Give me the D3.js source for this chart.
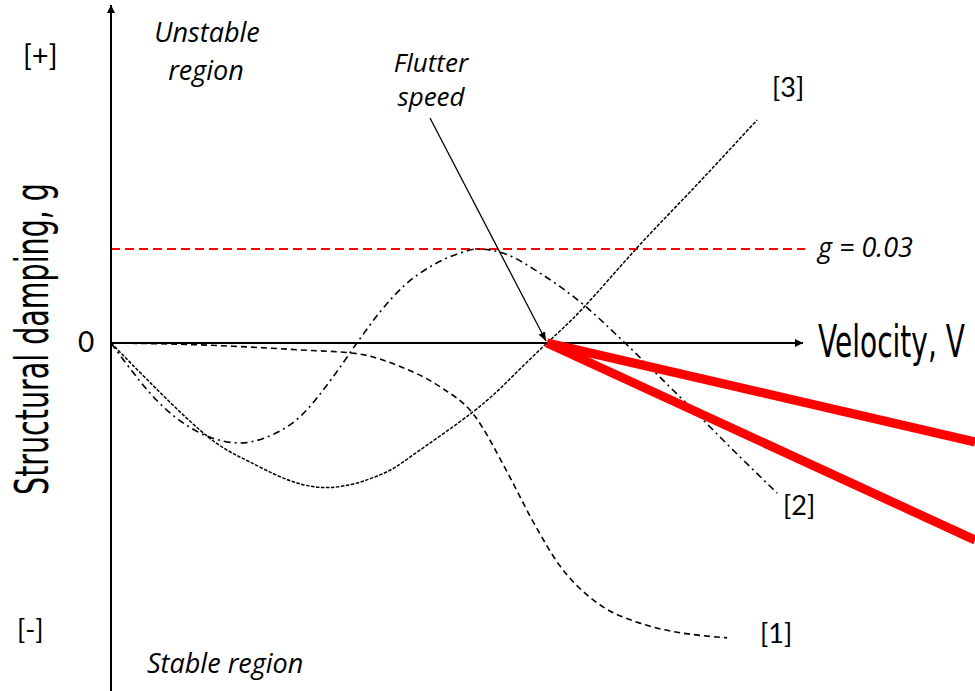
<!DOCTYPE html>
<html>
<head>
<meta charset="utf-8">
<script src="https://cdn.jsdelivr.net/npm/d3@7"></script>
<style>
  body { margin: 0; background: #fff; }
  svg { display: block; }
</style>
</head>
<body>
<svg id="chart" width="975" height="691"></svg>
<script>
// velocity is in units of the flutter speed, damping in g
const curve1V = [0, 0.204, 0.319, 0.433, 0.564, 0.663, 0.755, 0.830, 0.908, 0.968, 1.030, 1.106, 1.213, 1.413],
  curve1G = [0, -0.0006, -0.0013, -0.0022, -0.0034, -0.0075, -0.0140, -0.0225, -0.0410, -0.0570, -0.0712, -0.0820, -0.0894, -0.0941];

const curve2V = [0, 0.128, 0.204, 0.296, 0.358, 0.433, 0.509, 0.564, 0.617, 0.674, 0.739, 0.807, 0.839, 0.899, 0.984, 1.076, 1.179, 1.259, 1.351, 1.443, 1.528],
  curve2G = [0, -0.0214, -0.0287, -0.0319, -0.0300, -0.0236, -0.0109, 0, 0.0099, 0.0185, 0.0249, 0.0290, 0.0300, 0.0287, 0.0223, 0.0131, 0, -0.0109, -0.0236, -0.0364, -0.0479];

const curve3V = [0, 0.204, 0.319, 0.472, 0.617, 0.693, 0.830, 0.922, 1, 1.083, 1.206, 1.328, 1.482],
  curve3G = [0, -0.0278, -0.0380, -0.0460, -0.0421, -0.0357, -0.0220, -0.0105, 0, 0.0112, 0.0303, 0.0482, 0.0712];

const redUpperV = [1, 1.982], redUpperG = [0, -0.0316];
const redLowerV = [1, 1.982], redLowerG = [0, -0.0629];

const gLimit = 0.03, gLimitEndV = 1.592;
const flutterV = 1;

const curveNames = ['[1]', '[2]', '[3]'];

const svg = d3.select('#chart');

const x = d3.scaleLinear().domain([0, 1]).range([111, 547]);
const y = d3.scaleLinear().domain([0, 0.03]).range([343, 249]);

const lineOf = curve => d3.line()
  .x(d => x(d[0]))
  .y(d => y(d[1]))
  .curve(curve);

const zip = (vs, gs) => vs.map((v, i) => [v, gs[i]]);

// arrow heads
const defs = svg.append('defs');
defs.append('marker')
  .attr('id', 'axisArrow')
  .attr('viewBox', '0 0 10 10')
  .attr('refX', 10).attr('refY', 5)
  .attr('markerWidth', 8).attr('markerHeight', 8)
  .attr('markerUnits', 'userSpaceOnUse')
  .attr('orient', 'auto')
  .append('path').attr('d', 'M0,0L10,5L0,10z').attr('fill', '#000');
defs.append('marker')
  .attr('id', 'noteArrow')
  .attr('viewBox', '0 0 10 10')
  .attr('refX', 10).attr('refY', 5)
  .attr('markerWidth', 9).attr('markerHeight', 9)
  .attr('markerUnits', 'userSpaceOnUse')
  .attr('orient', 'auto')
  .append('path').attr('d', 'M0,1L10,5L0,9z').attr('fill', '#000');

// threshold g = 0.03
svg.append('line')
  .attr('x1', x(0)).attr('x2', x(gLimitEndV))
  .attr('y1', y(gLimit)).attr('y2', y(gLimit))
  .attr('stroke', '#ff0000')
  .attr('stroke-width', 2)
  .attr('stroke-dasharray', '9,5');

// axes
svg.append('line')
  .attr('x1', x(0)).attr('x2', x(0))
  .attr('y1', 691).attr('y2', 5)
  .attr('stroke', '#000').attr('stroke-width', 2)
  .attr('marker-end', 'url(#axisArrow)');
svg.append('line')
  .attr('x1', x(0)).attr('x2', 803)
  .attr('y1', y(0)).attr('y2', y(0))
  .attr('stroke', '#000').attr('stroke-width', 2)
  .attr('marker-end', 'url(#axisArrow)');

// damping curves
const curves = [
  { pts: zip(curve1V, curve1G), dash: '6,4', w: 1.6, curve: d3.curveMonotoneX },
  { pts: zip(curve2V, curve2G), dash: '7,4,2,4', w: 1.6, curve: d3.curveMonotoneX },
  { pts: zip(curve3V, curve3G), dash: '3.5,1.5', w: 1.5, curve: d3.curveNatural }
];

svg.append('g').selectAll('path').data(curves).enter()
  .append('path')
  .attr('d', d => lineOf(d.curve)(d.pts))
  .attr('fill', 'none')
  .attr('stroke', '#000')
  .attr('stroke-width', d => d.w)
  .attr('stroke-dasharray', d => d.dash);

// red post-flutter branches
svg.append('g').selectAll('path')
  .data([zip(redUpperV, redUpperG), zip(redLowerV, redLowerG)]).enter()
  .append('path')
  .attr('d', lineOf(d3.curveLinear))
  .attr('fill', 'none')
  .attr('stroke', '#ff0000')
  .attr('stroke-width', 9);

// flutter speed pointer
svg.append('line')
  .attr('x1', 430).attr('y1', 118)
  .attr('x2', x(flutterV) - 1).attr('y2', y(0) - 2)
  .attr('stroke', '#000').attr('stroke-width', 1.3)
  .attr('marker-end', 'url(#noteArrow)');

// texts
const plain = "Lato, 'Open Sans', sans-serif",
  ital = "'Open Sans', 'Noto Sans', sans-serif",
  narrow = "'DejaVu Sans', sans-serif";

function label(txt, px, py, opts) {
  opts = opts || {};
  return svg.append('text')
    .attr('x', px).attr('y', py)
    .attr('text-anchor', opts.anchor || 'start')
    .attr('font-family', opts.family || plain)
    .attr('font-size', opts.size || 27)
    .attr('font-style', opts.italic ? 'italic' : 'normal')
    .attr('fill', '#000')
    .text(txt);
}

label('[+]', 23, 66, { size: 29 });
label('[-]', 17, 639);
label('0', 78, 352, { size: 28 });

label('Unstable', 207, 42, { anchor: 'middle', family: ital, size: 27, italic: true });
label('region', 206, 80, { anchor: 'middle', family: ital, size: 27, italic: true });
label('Flutter', 431, 72, { anchor: 'middle', family: ital, size: 26, italic: true });
label('speed', 431, 106, { anchor: 'middle', family: ital, size: 26, italic: true });
label('g = 0.03', 818, 257, { family: ital, size: 27, italic: true });
label('Stable region', 147, 673, { family: ital, size: 27, italic: true });

label(curveNames[0], 760, 643);
label(curveNames[1], 783, 515);
label(curveNames[2], 772, 97);

// condensed axis titles: squeeze a regular face to the target width
function squeeze(sel, px, py, rot, width) {
  const w = sel.node().getComputedTextLength();
  sel.attr('transform', `translate(${px},${py}) rotate(${rot}) scale(${width / w},1)`);
}

squeeze(label('Velocity, V', 0, 0, { family: narrow, size: 44 }), 818, 357, 0, 147);
squeeze(label('Structural damping, g', 0, 0, { family: narrow, size: 47, anchor: 'middle' }), 48, 339, -90, 312);
</script>
</body>
</html>
